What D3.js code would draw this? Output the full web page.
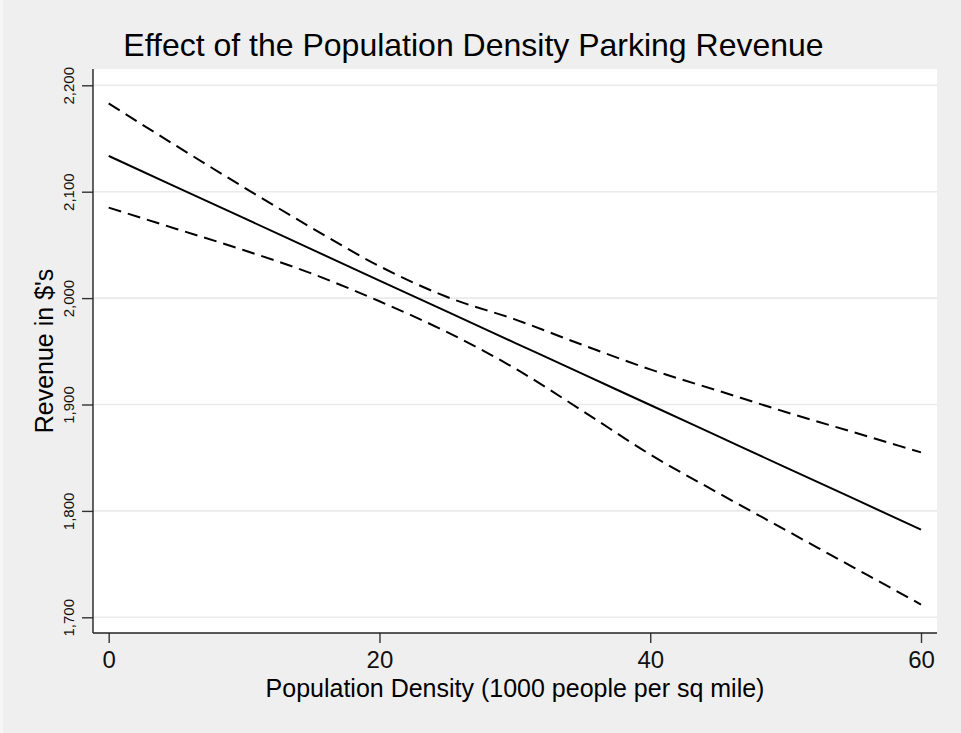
<!DOCTYPE html>
<html><head><meta charset="utf-8">
<script src="https://cdn.jsdelivr.net/npm/d3@7"></script>
<style>
html,body{margin:0;padding:0;background:#f6f6f6;}
svg{display:block;font-family:"Liberation Sans",Arial,Helvetica,sans-serif;}
</style></head>
<body><svg id="chart" width="961" height="733"></svg>
<script>
const density = [0, 5, 10, 15, 20, 25, 30, 35, 40, 45, 50, 55, 60];
const revenue = [2133.6, 2104.3, 2075.1, 2045.8, 2016.5, 1987.3, 1958.0, 1928.7, 1899.5, 1870.2, 1840.9, 1811.7, 1782.4];
const upperCI = [2183, 2143, 2104, 2066, 2030, 2001, 1980, 1956, 1933, 1913, 1893, 1874, 1855];
const lowerCI = [2085, 2065, 2045, 2023, 1997, 1968, 1934, 1894, 1853, 1817, 1782, 1747, 1712];
const xTicks = [0, 20, 40, 60];
const yTicks = [1700, 1800, 1900, 2000, 2100, 2200];
const titleText = "Effect of the Population Density Parking Revenue";
const xTitle = "Population Density (1000 people per sq mile)";
const yTitle = "Revenue in $'s";

const svg = d3.select("#chart");
const W = 961, H = 733;
const plot = {left: 93, right: 937, top: 69, bottom: 633};

svg.append("rect").attr("x", 3).attr("y", 0).attr("width", W - 3).attr("height", H).attr("fill", "#efefef");
svg.append("rect").attr("x", plot.left).attr("y", plot.top)
  .attr("width", plot.right - plot.left).attr("height", plot.bottom - plot.top).attr("fill", "#ffffff");

const x = d3.scaleLinear().domain([0, 60]).range([108.7, 921]);
const y = d3.scaleLinear().domain([1700, 2200]).range([617.3, 85.3]);

// grid
svg.append("g").selectAll("line").data(yTicks).join("line")
  .attr("x1", plot.left).attr("x2", plot.right)
  .attr("y1", d => y(d)).attr("y2", d => y(d))
  .attr("stroke", "#eaeaea").attr("stroke-width", 1.6);

// y axis
const yAxis = svg.append("g").attr("transform", `translate(${plot.left},0)`)
  .call(d3.axisLeft(y).tickValues(yTicks).tickSize(11).tickPadding(8).tickFormat(d3.format(",")));
yAxis.select(".domain").remove();
yAxis.selectAll(".tick line").attr("stroke", "#333").attr("stroke-width", 1.4);
yAxis.selectAll(".tick text")
  .attr("font-size", 15).attr("fill", "#111")
  .attr("x", null).attr("dy", null)
  .attr("text-anchor", "middle")
  .attr("transform", "translate(-19,0) rotate(-90)");
svg.append("line").attr("x1", plot.left).attr("x2", plot.left)
  .attr("y1", plot.top).attr("y2", plot.bottom).attr("stroke", "#222").attr("stroke-width", 1.4);

// x axis
const xAxis = svg.append("g").attr("transform", `translate(0,${plot.bottom})`)
  .call(d3.axisBottom(x).tickValues(xTicks).tickSize(10).tickPadding(6).tickFormat(d3.format("d")));
xAxis.select(".domain").remove();
xAxis.selectAll(".tick line").attr("stroke", "#333").attr("stroke-width", 1.4);
xAxis.selectAll(".tick text").attr("font-size", 24).attr("fill", "#111")
  .attr("y", 35).attr("dy", null);
svg.append("line").attr("x1", plot.left).attr("x2", plot.right)
  .attr("y1", plot.bottom).attr("y2", plot.bottom).attr("stroke", "#222").attr("stroke-width", 1.4);

// lines
const pts = arr => density.map((d, i) => [d, arr[i]]);
const line = d3.line().x(d => x(d[0])).y(d => y(d[1])).curve(d3.curveMonotoneX);
svg.append("path").attr("d", line(pts(upperCI))).attr("fill", "none")
  .attr("stroke", "#000").attr("stroke-width", 2).attr("stroke-dasharray", "13,7");
svg.append("path").attr("d", line(pts(lowerCI))).attr("fill", "none")
  .attr("stroke", "#000").attr("stroke-width", 2).attr("stroke-dasharray", "13,7");
svg.append("path").attr("d", line(pts(revenue))).attr("fill", "none")
  .attr("stroke", "#000").attr("stroke-width", 2);

// titles
svg.append("text").attr("x", 473.5).attr("y", 56).attr("text-anchor", "middle")
  .attr("font-size", 32).attr("fill", "#000").text(titleText);
svg.append("text").attr("x", 515).attr("y", 697).attr("text-anchor", "middle")
  .attr("font-size", 25).attr("fill", "#000").text(xTitle);
svg.append("text").attr("transform", `translate(53,351) rotate(-90)`).attr("text-anchor", "middle")
  .attr("font-size", 25).attr("fill", "#000").text(yTitle);
</script></body></html>
